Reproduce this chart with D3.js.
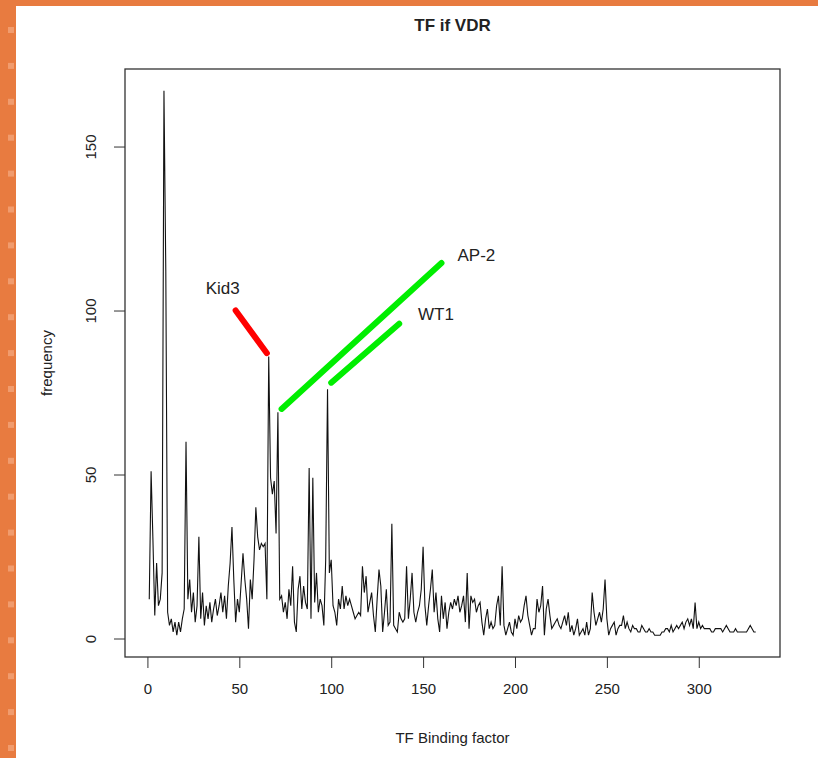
<!DOCTYPE html>
<html lang="en">
<head>
  <meta charset="UTF-8">
  <title>TF if VDR</title>
  <script src="https://cdn.jsdelivr.net/npm/d3@7"></script>
  <style type="text/css">
    body {
        margin: 0;
        padding: 0;
        background: #fff;
    }
    text {
        font-family: "Liberation Sans", Arial, sans-serif;
        fill: #222;
    }
  </style>
</head>
<body>
<div id="viewport"></div>
<script>
// frequency per TF binding factor (x = 1 .. n)
var freq = [
  12, 51, 30, 7, 23, 10, 12, 20, 167, 112,
  8, 4, 6, 2, 5, 1, 5, 2, 6, 9,
  60, 12, 18, 8, 14, 5, 10, 31, 6, 14,
  4, 10, 6, 11, 5, 9, 12, 7, 10, 14,
  8, 13, 6, 16, 23, 34, 18, 5, 12, 8,
  17, 26, 18, 12, 3, 18, 12, 24, 40, 31,
  27, 29, 28, 29, 12, 86, 49, 44, 48, 32,
  69, 12, 13, 8, 11, 6, 15, 10, 22, 5,
  2, 15, 19, 9, 16, 11, 9, 52, 6, 49,
  11, 20, 8, 12, 10, 4, 24, 76, 20, 24,
  10, 8, 4, 12, 9, 16, 9, 13, 10, 12,
  10, 8, 6, 7, 8, 7, 22, 14, 19, 8,
  11, 14, 7, 2, 12, 21, 16, 2, 8, 15,
  4, 5, 35, 4, 3, 2, 8, 6, 5, 6,
  22, 6, 12, 20, 8, 5, 8, 10, 15, 28,
  10, 4, 10, 15, 21, 8, 14, 6, 2, 13,
  6, 11, 3, 8, 11, 9, 12, 10, 13, 8,
  10, 13, 5, 20, 3, 13, 11, 12, 8, 10,
  11, 5, 1, 6, 9, 3, 5, 3, 4, 10,
  13, 4, 22, 4, 1, 3, 5, 2, 1, 6,
  3, 7, 5, 6, 10, 13, 7, 4, 1, 3,
  3, 12, 8, 10, 16, 1, 9, 12, 7, 3,
  4, 5, 6, 4, 3, 5, 7, 4, 8, 2,
  4, 1, 3, 6, 1, 2, 3, 1, 5, 1,
  3, 14, 8, 4, 6, 8, 5, 9, 18, 6,
  1, 3, 4, 5, 1, 3, 4, 4, 7, 3,
  5, 3, 2, 4, 3, 3, 2, 2, 4, 3,
  2, 2, 3, 2, 2, 1, 1, 1, 1, 2,
  2, 3, 3, 2, 4, 2, 3, 4, 3, 4,
  5, 3, 5, 6, 4, 6, 3, 11, 3, 5,
  3, 4, 3, 3, 3, 3, 2, 2, 3, 3,
  3, 3, 2, 3, 4, 3, 2, 2, 2, 3,
  2, 2, 2, 2, 2, 2, 3, 4, 3, 2, 2
];

var xTicks = [0, 50, 100, 150, 200, 250, 300];
var yTicks = [0, 50, 100, 150];

// annotations: label, segment start/end in data units, label position
var annoNames  = ["Kid3", "AP-2", "WT1"];
var annoColors = ["#ff0000", "#00ee00", "#00ee00"];
var annoFrom   = [[48, 100], [73, 70], [100, 78]];
var annoTo     = [[65, 87], [160, 114.5], [137, 96]];
var annoLabel  = [[41, 107], [179, 117], [157, 99]];

var W = 818, H = 758;
var mLeft = 125, mRight = 780, mTop = 69, mBottom = 657;

var svg = d3.select("#viewport")
            .append("svg")
            .attr("width", W)
            .attr("height", H);

// orange frame
var orange = "#e87b40";
svg.append("rect").attr("x", 0).attr("y", 0).attr("width", W).attr("height", 6).attr("fill", orange);
svg.append("rect").attr("x", 0).attr("y", 0).attr("width", 16).attr("height", H).attr("fill", orange);
svg.selectAll("rect.dot")
   .data(d3.range(27, H, 35.9))
   .enter().append("rect")
   .attr("class", "dot")
   .attr("x", 8).attr("y", function(d) { return d; })
   .attr("width", 6).attr("height", 6)
   .attr("fill", "#f19c6e");

// R style 4% padding
var xs = freq.map(function(d, i) { return i + 1; });
var xExt = d3.extent(xs), yExt = d3.extent(freq);
var xPad = (xExt[1] - xExt[0]) * 0.04, yPad = (yExt[1] - yExt[0]) * 0.04;

var x = d3.scaleLinear().domain([xExt[0] - xPad, xExt[1] + xPad]).range([mLeft, mRight]);
var y = d3.scaleLinear().domain([yExt[0] - yPad, yExt[1] + yPad]).range([mBottom, mTop]);

svg.append("rect")
   .attr("x", mLeft).attr("y", mTop)
   .attr("width", mRight - mLeft).attr("height", mBottom - mTop)
   .attr("fill", "none").attr("stroke", "#333").attr("stroke-width", 1.3);

var xAxis = svg.append("g")
   .attr("transform", "translate(0," + mBottom + ")")
   .call(d3.axisBottom(x).tickValues(xTicks).tickSize(11).tickPadding(15));
var yAxis = svg.append("g")
   .attr("transform", "translate(" + mLeft + ",0)")
   .call(d3.axisLeft(y).tickValues(yTicks).tickSize(11));

[xAxis, yAxis].forEach(function(g) {
  g.select(".domain").remove();
  g.selectAll("line").attr("stroke", "#333");
  g.selectAll("text").attr("font-size", 15).attr("fill", "#222")
   .attr("font-family", "Liberation Sans, Arial, sans-serif");
});
// rotated y tick labels, as R draws them
yAxis.selectAll(".tick text")
     .attr("x", null).attr("dy", null)
     .attr("text-anchor", "middle")
     .attr("transform", "translate(-29,0) rotate(-90)");

// series line
var line = d3.line()
             .x(function(d, i) { return x(i + 1); })
             .y(function(d) { return y(d); });
svg.append("path")
   .datum(freq)
   .attr("fill", "none")
   .attr("stroke", "#111")
   .attr("stroke-width", 1.1)
   .attr("d", line);

// annotations
annoNames.forEach(function(name, i) {
  svg.append("line")
     .attr("x1", x(annoFrom[i][0])).attr("y1", y(annoFrom[i][1]))
     .attr("x2", x(annoTo[i][0])).attr("y2", y(annoTo[i][1]))
     .attr("stroke", annoColors[i]).attr("stroke-width", 6)
     .attr("stroke-linecap", "round");
  svg.append("text")
     .attr("x", x(annoLabel[i][0])).attr("y", y(annoLabel[i][1]))
     .attr("text-anchor", "middle").attr("dy", "0.35em")
     .attr("font-size", 17)
     .text(name);
});

// titles
svg.append("text")
   .attr("x", (mLeft + mRight) / 2).attr("y", 31)
   .attr("text-anchor", "middle")
   .attr("font-size", 17).attr("font-weight", "bold")
   .text("TF if VDR");
svg.append("text")
   .attr("x", (mLeft + mRight) / 2).attr("y", 743)
   .attr("text-anchor", "middle")
   .attr("font-size", 15)
   .text("TF Binding factor");
svg.append("text")
   .attr("transform", "translate(52," + ((mTop + mBottom) / 2) + ") rotate(-90)")
   .attr("text-anchor", "middle")
   .attr("font-size", 15)
   .text("frequency");
</script>
</body>
</html>
